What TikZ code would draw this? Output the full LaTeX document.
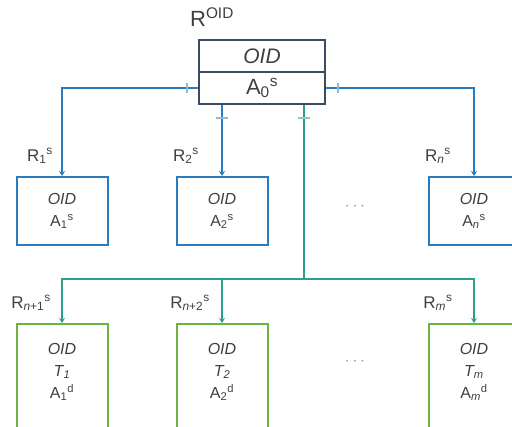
\documentclass[tikz,border=0pt]{standalone}
\usepackage{fontspec}
\setmainfont{Liberation Sans}
\usetikzlibrary{arrows.meta}

\definecolor{relblue}{HTML}{2B7BBF}
\definecolor{relnavy}{HTML}{3C4B64}
\definecolor{relteal}{HTML}{2E9E88}
\definecolor{relgreen}{HTML}{6DB33F}
\definecolor{tickblue}{HTML}{8DB8DC}
\definecolor{tickteal}{HTML}{8FC9B8}
\definecolor{txtgray}{HTML}{404040}

\begin{document}
\begin{tikzpicture}[x=1pt,y=-1pt,
    topnode/.style={rectangle, draw=relnavy, line width=1.5pt, minimum width=126pt, inner sep=0pt, text=txtgray},
    sbox/.style={rectangle, draw=relblue, line width=2pt, minimum width=91pt, minimum height=68pt, align=center, text=txtgray, font=\fontsize{16}{22}\selectfont},
    dbox/.style={rectangle, draw=relgreen, line width=2pt, minimum width=91pt, minimum height=115pt},
    dtext/.style={align=center, text=txtgray, font=\fontsize{16}{22}\selectfont},
    rlabel/.style={text=txtgray, font=\fontsize{17}{20}\selectfont},
    dots/.style={text=gray!80, font=\fontsize{16}{18}\selectfont},
    sline/.style={draw=relblue, line width=2pt, -{Stealth[length=5pt,width=6pt]}},
    dline/.style={draw=relteal, line width=1.6pt, -{Stealth[length=5pt,width=6pt]}},
    tick/.style={line width=1.2pt}
    ]
    \clip (0,0) rectangle (512,427);

    % root relation
    \node [text=txtgray, font=\fontsize{22}{24}\selectfont] (root) at (212,17) {R\textsuperscript{OID}};
    \node [topnode, minimum height=32pt, font=\fontsize{21}{24}\selectfont] (oid) at (262,56) {\textit{OID}};
    \node [topnode, minimum height=32pt, font=\fontsize{22}{24}\selectfont] (a0) at (262,88) {A\textsubscript{0}\textsuperscript{s}};

    % static attributes
    \node [sbox] (s1) at (62,211) {\textit{OID}\\A\textsubscript{1}\textsuperscript{s}};
    \node [sbox] (s2) at (222,211) {\textit{OID}\\A\textsubscript{2}\textsuperscript{s}};
    \node [sbox] (sn) at (474,211) {\textit{OID}\\A\textsubscript{\textit{n}}\textsuperscript{s}};
    \node [dots] (sdots) at (355,207) {$\cdots$};

    \node [rlabel] (r1) at (40,156) {R\textsubscript{1}\textsuperscript{s}};
    \node [rlabel] (r2) at (186,156) {R\textsubscript{2}\textsuperscript{s}};
    \node [rlabel] (rn) at (438,156) {R\textsubscript{\textit{n}}\textsuperscript{s}};

    % dynamic attributes
    \node [dbox] (d1) at (62,381.5) {};
    \node [dbox] (d2) at (222,381.5) {};
    \node [dbox] (dm) at (474,381.5) {};
    \node [dtext] (d1t) at (62,372) {\textit{OID}\\\textit{T\textsubscript{1}}\\A\textsubscript{1}\textsuperscript{d}};
    \node [dtext] (d2t) at (222,372) {\textit{OID}\\\textit{T\textsubscript{2}}\\A\textsubscript{2}\textsuperscript{d}};
    \node [dtext] (dmt) at (474,372) {\textit{OID}\\\textit{T\textsubscript{m}}\\A\textsubscript{\textit{m}}\textsuperscript{d}};
    \node [dots] (ddots) at (355,362) {$\cdots$};

    \node [rlabel] (rn1) at (31,303) {R\textsubscript{\textit{n}+1}\textsuperscript{s}};
    \node [rlabel] (rn2) at (190,303) {R\textsubscript{\textit{n}+2}\textsuperscript{s}};
    \node [rlabel] (rm) at (438,303) {R\textsubscript{\textit{m}}\textsuperscript{s}};

    % connectors
    \draw [sline] (a0.west) -| (s1.north);
    \draw [sline] (a0.east) -| (sn.north);
    \draw [sline] (s2.north |- a0.south) -- (s2.north);

    \coordinate (dsplit) at (304,279);
    \draw [dline, -] (dsplit |- a0.south) -- (dsplit);
    \draw [dline] (dsplit) -| (d1.north);
    \draw [dline] (dsplit) -| (d2.north);
    \draw [dline] (dsplit) -| (dm.north);

    % one-side ticks
    \draw [tick, tickblue] (187,83) -- (187,93);
    \draw [tick, tickblue] (338,83) -- (338,93);
    \draw [tick, tickblue] (216,118) -- (228,118);
    \draw [tick, tickteal] (298,118) -- (310,118);
\end{tikzpicture}
\end{document}
